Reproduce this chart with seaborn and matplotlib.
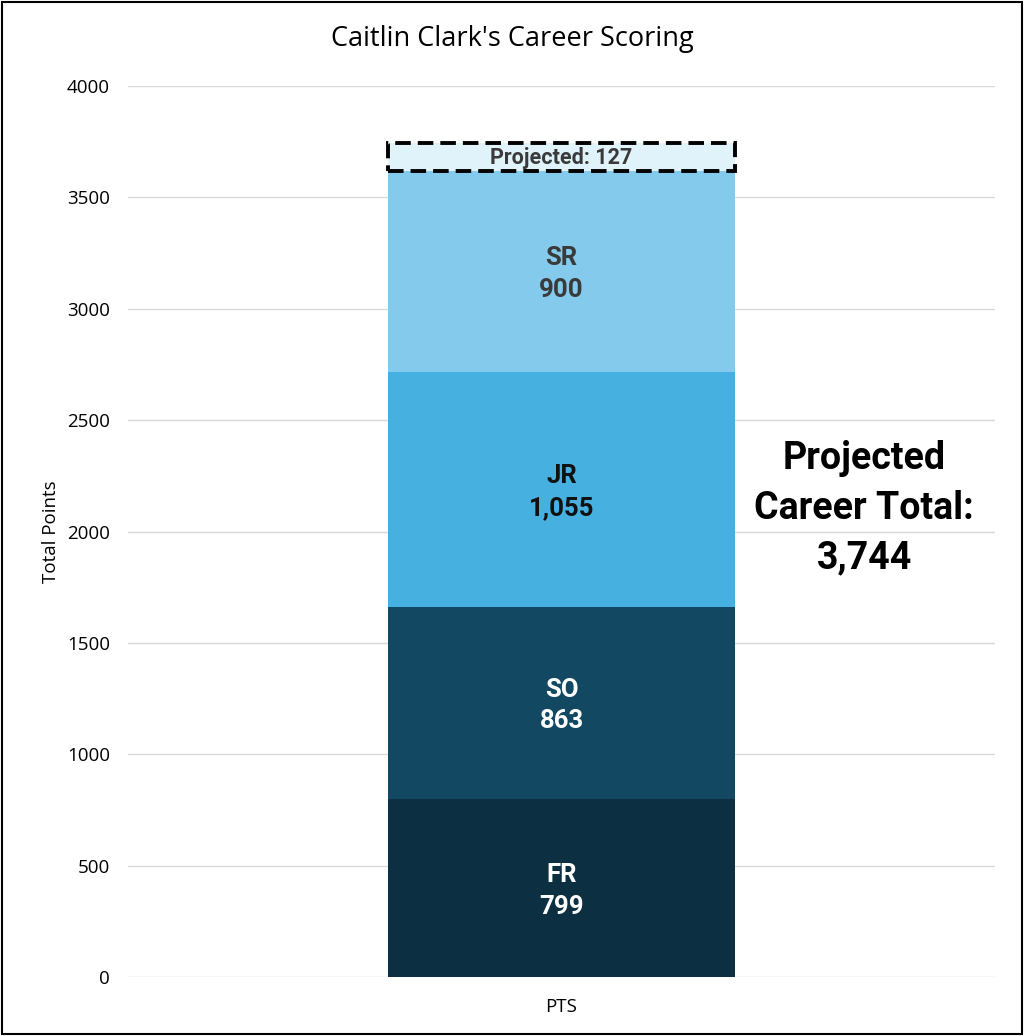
import matplotlib
matplotlib.use("Agg")
import matplotlib.pyplot as plt
import seaborn as sns
from matplotlib.patches import Rectangle

# ---- data ----
category = ["PTS"]
seasons = ["FR", "SO", "JR", "SR"]
season_points = [799, 863, 1055, 900]
season_labels = ["799", "863", "1,055", "900"]
season_colors = ["#0C3042", "#124862", "#46B0E1", "#83CAEC"]
season_text_colors = ["white", "white", "#111111", "#3A3A3A"]
projected_points = 127
projected_label = "Projected: 127"
total_label = "3,744"
title = "Caitlin Clark's Career Scoring"
y_ticks = [0, 500, 1000, 1500, 2000, 2500, 3000, 3500, 4000]

sns.set_theme(style="white")
plt.rcParams["font.family"] = ["Open Sans", "DejaVu Sans"]

fig = plt.figure(figsize=(10.24, 10.36), dpi=100)
ax = fig.add_axes([0.125, 0.0569, 0.8467, 0.8601])

cum = 0
for name, val, lab, col, tcol in zip(seasons, season_points, season_labels,
                                      season_colors, season_text_colors):
    sns.barplot(x=category, y=[val], bottom=cum, color=col, width=0.4,
                saturation=1, ax=ax, zorder=3, linewidth=0)
    ax.text(0, cum + val / 2 - 12, f"{name}\n{lab}", ha="center", va="center",
            fontsize=18.5, fontweight="bold", color=tcol, family="Roboto",
            linespacing=1.4, zorder=5)
    cum += val

# projected segment
sns.barplot(x=category, y=[projected_points], bottom=cum, color="#E0F3FA",
            width=0.4, saturation=1, ax=ax, zorder=3, linewidth=0)
ax.add_patch(Rectangle((-0.2, cum), 0.4, projected_points, fill=False,
                       edgecolor="black", linewidth=2.8, linestyle=(0, (4, 1.8)),
                       zorder=6, clip_on=False))
ax.text(0, cum + projected_points / 2 - 6, projected_label, ha="center", va="center",
        fontsize=15.5, fontweight="bold", color="#3A3A3A", family="Roboto", zorder=7)
total = cum + projected_points

ax.text(0.349, 2105, f"Projected\nCareer Total:\n{total_label}", ha="center",
        va="center", fontsize=27, fontweight="bold", color="black",
        family="Roboto", linespacing=1.44, zorder=7)

ax.set_xlim(-0.5, 0.5)
ax.set_ylim(0, 4000)
ax.set_yticks(y_ticks)
ax.set_yticklabels([str(t) for t in y_ticks])
ax.yaxis.grid(True, color="#D9D9D9", linewidth=1, zorder=0)
ax.set_axisbelow(True)
for s in ax.spines.values():
    s.set_visible(False)
ax.tick_params(axis="both", length=0, labelsize=13.5, colors="black")
ax.tick_params(axis="y", pad=13)
ax.tick_params(axis="x", pad=15)
ax.set_xlabel("")
ax.set_ylabel("Total Points", fontsize=13.5, color="black", labelpad=5)

fig.text(0.5, 0.962, title, ha="center", va="center", fontsize=19.5, color="black")

fig.patches.append(Rectangle((0.002, 0.002), 0.996, 0.996, transform=fig.transFigure,
                             fill=False, edgecolor="black", linewidth=1.5))

fig.savefig("out.png", dpi=100)
